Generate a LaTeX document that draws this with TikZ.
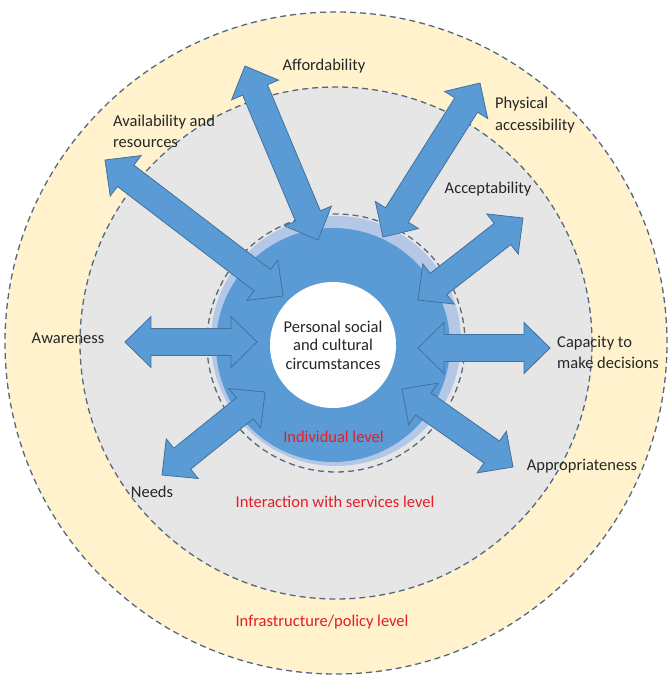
\documentclass[tikz,border=0pt]{standalone}
\usepackage{fontspec}
\setmainfont{Carlito}
\usetikzlibrary{calc}

\definecolor{policyfill}{RGB}{255,242,204}
\definecolor{servicefill}{RGB}{231,230,230}
\definecolor{ringfill}{RGB}{180,199,231}
\definecolor{corefill}{RGB}{91,155,213}
\definecolor{arrowline}{RGB}{65,113,156}
\definecolor{dashline}{RGB}{84,104,128}
\definecolor{levelred}{RGB}{226,30,40}

\begin{document}
\begin{tikzpicture}[
    x=1pt, y=1pt,
    level circle/.style={draw=dashline,line width=1.3pt,dash pattern=on 6pt off 4pt},
    block arrow/.style={fill=corefill,draw=arrowline,line width=0.8pt},
    factor/.style={font=\fontsize{16.5}{21.5}\selectfont,text=black!85,inner sep=0pt,align=left},
    level label/.style={font=\fontsize{16.5}{20}\selectfont,text=levelred,inner sep=0pt},
    core/.style={circle,fill=white,minimum size=126pt,inner sep=0pt,align=center,
                 font=\fontsize{16.5}{18.5}\selectfont,text=black!85}
]

\useasboundingbox (-336,-333) rectangle (334,343);

% Níveis (círculos concêntricos)
\filldraw[fill=policyfill,level circle] (0,0) circle (331pt);
\filldraw[fill=servicefill,level circle] (0,0) circle (256pt);
\fill[ringfill] (0,2) circle (125pt);
\draw[level circle] (0,0) circle (129pt);
\fill[corefill] (-3,-2) circle (117pt);

% Extremidades das setas (interna / externa)
\coordinate (afford-in) at (-18,103);    \coordinate (afford-out) at (-91,277);
\coordinate (phys-in) at (47,106);       \coordinate (phys-out) at (144,260);
\coordinate (avail-in) at (-53,47);      \coordinate (avail-out) at (-231,183);
\coordinate (accept-in) at (82,43);      \coordinate (accept-out) at (187,125);
\coordinate (aware-in) at (-79,1);       \coordinate (aware-out) at (-211,1);
\coordinate (capacity-in) at (82,-5);    \coordinate (capacity-out) at (214,-5);
\coordinate (needs-in) at (-71,-49);     \coordinate (needs-out) at (-174,-132);
\coordinate (approp-in) at (66,-46);     \coordinate (approp-out) at (177,-124);

% Setas duplas em bloco
\foreach \a/\b in {afford-in/afford-out, phys-in/phys-out, avail-in/avail-out,
                   accept-in/accept-out, aware-in/aware-out, capacity-in/capacity-out,
                   needs-in/needs-out, approp-in/approp-out}
  \draw[block arrow] let \p1=($(\b)-(\a)$), \n1={atan2(\y1,\x1)}, \n2={veclen(\x1,\y1)} in
    (\a) -- ++(\n1+44.4:36.4pt) -- ++(\n1-90:12pt) -- ++(\n1:\n2-52pt)
    -- ++(\n1+90:12pt) -- ++(\n1-44.4:36.4pt) -- ++(\n1+224.4:36.4pt)
    -- ++(\n1+90:12pt) -- ++(\n1+180:\n2-52pt) -- ++(\n1-90:12pt) -- cycle;

% Centro
\node[core] (core) at (-3,-2) {Personal social\\and cultural\\circumstances};

% Fatores
\node[factor] (afford) at (-12,277) {Affordability};
\node[factor,anchor=west] (avail) at (-223,211.5) {Availability and\\resources};
\node[factor,anchor=west] (phys) at (159,228) {Physical\\accessibility};
\node[factor] (accept) at (152,154) {Acceptability};
\node[factor] (aware) at (-268,5) {Awareness};
\node[factor,anchor=west] (capacity) at (221,-9.5) {Capacity to\\make decisions};
\node[factor] (needs) at (-184,-149) {Needs};
\node[factor] (approp) at (246,-123) {Appropriateness};

% Rótulos dos níveis
\node[level label] (indiv) at (-2.5,-94) {Individual level};
\node[level label] (service) at (-1,-159) {Interaction with services level};
\node[level label] (policy) at (-14,-279) {Infrastructure/policy level};

\end{tikzpicture}
\end{document}
